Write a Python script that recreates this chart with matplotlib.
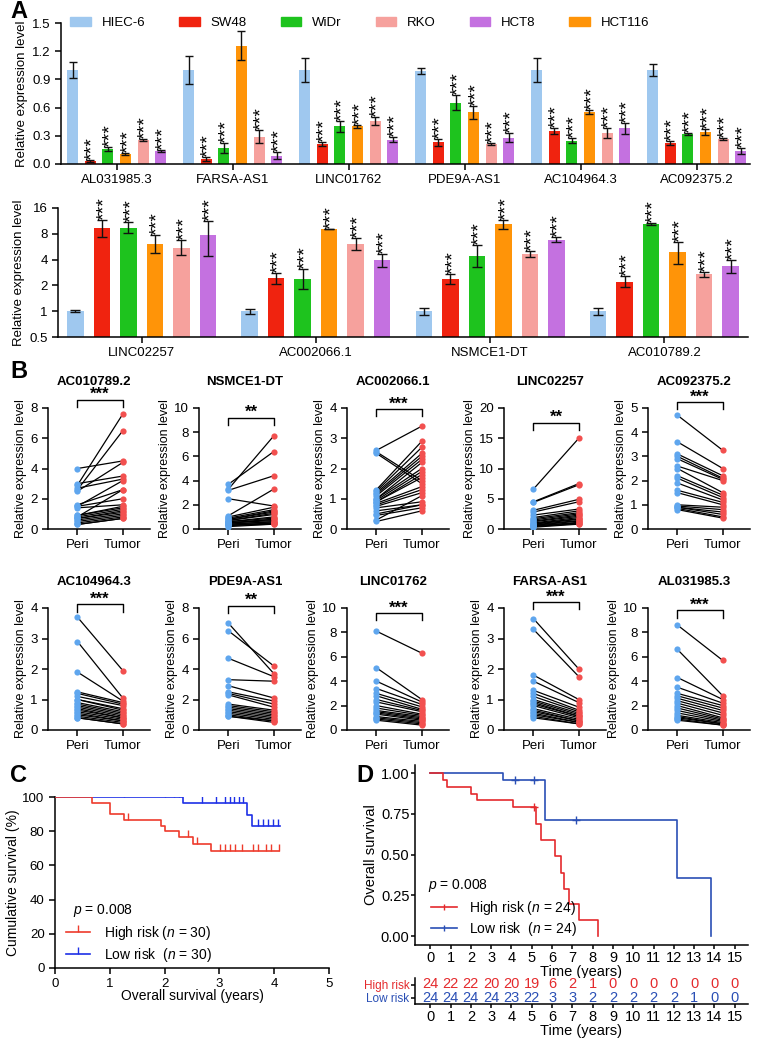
import numpy as np
import matplotlib
matplotlib.use('Agg')
import matplotlib.pyplot as plt
from matplotlib.lines import Line2D
from matplotlib.patches import Patch

plt.rcParams['font.family'] = ['Liberation Sans', 'DejaVu Sans']
plt.rcParams['mathtext.fontset'] = 'custom'
plt.rcParams['mathtext.it'] = 'Liberation Sans:italic'
plt.rcParams['mathtext.rm'] = 'Liberation Sans'
plt.rcParams['font.size'] = 9
plt.rcParams['axes.linewidth'] = 1.1
plt.rcParams['xtick.major.width'] = 1.1
plt.rcParams['ytick.major.width'] = 1.1

# ---------------- DATA ----------------
# panel A
cell_lines = ['HIEC-6', 'SW48', 'WiDr', 'HCT116', 'RKO', 'HCT8']
legend_order = ['HIEC-6', 'SW48', 'WiDr', 'RKO', 'HCT8', 'HCT116']
cell_colors = {'HIEC-6': '#9fc8ef', 'SW48': '#f0230f', 'WiDr': '#1ec31e',
               'HCT116': '#ff9408', 'RKO': '#f6a19d', 'HCT8': '#c471e0'}

genes_down = ['AL031985.3', 'FARSA-AS1', 'LINC01762', 'PDE9A-AS1', 'AC104964.3', 'AC092375.2']
down_mean = [[1.00, 0.03, 0.16, 0.11, 0.26, 0.14],
             [1.00, 0.05, 0.17, 1.26, 0.29, 0.09],
             [1.00, 0.21, 0.40, 0.40, 0.46, 0.26],
             [0.99, 0.23, 0.65, 0.55, 0.21, 0.28],
             [1.00, 0.35, 0.25, 0.55, 0.33, 0.38],
             [1.00, 0.22, 0.32, 0.34, 0.27, 0.14]]
down_err = [[0.09, 0.01, 0.02, 0.01, 0.01, 0.01],
            [0.15, 0.02, 0.05, 0.15, 0.07, 0.04],
            [0.13, 0.02, 0.06, 0.02, 0.04, 0.03],
            [0.03, 0.04, 0.08, 0.07, 0.01, 0.05],
            [0.13, 0.03, 0.03, 0.02, 0.05, 0.06],
            [0.06, 0.02, 0.01, 0.03, 0.01, 0.03]]
# significance marks per bar (HIEC-6 is the reference)
down_sig = [['', '***', '***', '***', '***', '***'],
            ['', '***', '***', '', '***', '***'],
            ['', '***', '***', '***', '***', '***'],
            ['', '***', '***', '***', '***', '***'],
            ['', '***', '***', '***', '***', '***'],
            ['', '***', '***', '***', '***', '***']]

genes_up = ['LINC02257', 'AC002066.1', 'NSMCE1-DT', 'AC010789.2']
up_mean = [[1.0, 9.3, 9.3, 6.1, 5.5, 7.8],
           [1.0, 2.45, 2.4, 9.1, 6.1, 3.95],
           [1.0, 2.4, 4.4, 10.4, 4.65, 6.8],
           [1.0, 2.2, 10.4, 4.9, 2.7, 3.4]]
up_lo = [[0.97, 7.3, 8.2, 4.8, 4.5, 4.4],
         [0.94, 2.1, 1.8, 9.0, 5.2, 3.3],
         [0.90, 2.1, 3.3, 9.1, 4.3, 6.4],
         [0.90, 1.9, 10.2, 3.6, 2.5, 2.8]]
up_hi = [[1.03, 11.6, 11.0, 7.7, 6.8, 11.4],
         [1.06, 2.8, 3.1, 9.2, 7.2, 4.6],
         [1.10, 2.7, 5.9, 11.7, 5.0, 7.3],
         [1.10, 2.6, 10.6, 6.4, 2.85, 4.0]]

# panel B
b_genes = ['AC010789.2', 'NSMCE1-DT', 'AC002066.1', 'LINC02257', 'AC092375.2',
           'AC104964.3', 'PDE9A-AS1', 'LINC01762', 'FARSA-AS1', 'AL031985.3']
b_sig = ['***', '**', '***', '**', '***', '***', '**', '***', '***', '***']
b_yticks = [[0, 2, 4, 6, 8], [0, 2, 4, 6, 8, 10], [0, 1, 2, 3, 4], [0, 5, 10, 15, 20],
            [0, 1, 2, 3, 4, 5], [0, 1, 2, 3, 4], [0, 2, 4, 6, 8], [0, 2, 4, 6, 8, 10],
            [0, 1, 2, 3, 4], [0, 2, 4, 6, 8, 10]]
b_bracket = [1.07, 0.92, 0.99, 0.88, 1.05, 1.03, 1.02, 0.96, 1.05, 0.98]
b_peri = [
    [4.0, 3.0, 2.9, 2.7, 2.6, 2.5, 1.6, 1.5, 1.5, 1.4, 0.9, 0.9, 0.8, 0.8, 0.7, 0.7, 0.6, 0.5, 0.4, 0.3, 0.3],
    [3.7, 3.3, 3.2, 2.5, 1.1, 1.0, 0.9, 0.8, 0.8, 0.7, 0.7, 0.6, 0.6, 0.5, 0.5, 0.5, 0.4, 0.4, 0.3, 0.3, 0.3, 0.2],
    [2.6, 2.55, 2.5, 1.3, 1.25, 1.2, 1.15, 1.1, 1.0, 1.0, 0.95, 0.9, 0.9, 0.85, 0.8, 0.75, 0.7, 0.6, 0.5, 0.45, 0.3, 0.25],
    [6.6, 4.5, 4.4, 3.1, 2.8, 2.3, 1.9, 1.7, 1.5, 1.3, 1.2, 1.0, 0.9, 0.8, 0.7, 0.6, 0.5, 0.5, 0.4, 0.3],
    [4.7, 3.6, 3.1, 3.0, 2.9, 2.6, 2.5, 2.2, 2.1, 1.9, 1.6, 1.5, 1.0, 0.95, 0.9, 0.9, 0.85, 0.8],
    [3.7, 2.9, 1.9, 1.25, 1.2, 1.1, 1.0, 1.0, 0.9, 0.85, 0.8, 0.75, 0.7, 0.65, 0.6, 0.55, 0.5, 0.45, 0.4, 0.4],
    [7.0, 6.5, 4.7, 3.3, 2.9, 2.5, 2.4, 2.3, 1.7, 1.6, 1.5, 1.4, 1.3, 1.2, 1.1, 1.0, 0.9, 0.9],
    [8.1, 5.1, 4.0, 3.4, 3.0, 2.8, 2.5, 2.3, 2.0, 1.8, 1.6, 1.5, 1.4, 1.3, 1.1, 1.0, 0.9, 0.8],
    [3.65, 3.3, 1.8, 1.6, 1.3, 1.2, 1.1, 1.0, 0.95, 0.9, 0.85, 0.8, 0.7, 0.65, 0.6, 0.55, 0.5, 0.45, 0.4],
    [8.6, 6.6, 4.3, 3.5, 3.0, 2.8, 2.6, 2.4, 2.2, 2.0, 1.8, 1.6, 1.4, 1.2, 1.1, 1.0, 0.9, 0.8],
]
b_tumor = [
    [4.5, 3.5, 7.6, 3.3, 6.5, 4.4, 2.6, 3.2, 2.0, 1.6, 1.5, 1.4, 1.3, 2.6, 1.2, 1.1, 1.0, 0.9, 0.8, 0.7, 0.7],
    [6.4, 7.7, 4.4, 1.9, 3.3, 1.8, 1.6, 1.5, 1.4, 1.3, 1.2, 1.0, 0.9, 0.8, 0.8, 0.7, 0.6, 0.6, 0.5, 0.5, 0.4, 0.4],
    [3.4, 1.6, 1.5, 2.9, 2.7, 2.5, 2.4, 2.3, 2.2, 2.0, 1.9, 1.8, 1.7, 1.4, 1.3, 1.2, 0.9, 0.8, 0.8, 0.7, 1.1, 0.6],
    [15.0, 7.5, 7.3, 4.9, 4.5, 3.3, 3.0, 2.7, 2.5, 2.3, 2.1, 1.9, 1.7, 1.6, 1.4, 1.3, 1.1, 1.0, 0.9, 0.8],
    [3.25, 2.5, 2.2, 2.1, 2.05, 2.0, 1.5, 1.4, 1.3, 1.2, 1.1, 1.0, 0.9, 0.8, 0.7, 0.6, 0.5, 0.45],
    [1.95, 1.05, 0.95, 0.9, 0.85, 0.8, 0.7, 0.65, 0.6, 0.55, 0.5, 0.45, 0.4, 0.4, 0.35, 0.3, 0.3, 0.25, 0.2, 0.2],
    [3.7, 4.2, 3.5, 3.2, 2.1, 1.9, 1.7, 1.5, 1.3, 1.2, 1.1, 1.0, 0.9, 0.8, 0.7, 0.6, 0.6, 0.5],
    [6.3, 2.5, 2.3, 2.1, 1.9, 1.7, 1.6, 1.5, 1.3, 1.2, 1.1, 1.0, 0.9, 0.8, 0.7, 0.6, 0.5, 0.4],
    [2.0, 1.75, 1.0, 0.9, 0.75, 0.65, 0.6, 0.55, 0.5, 0.45, 0.45, 0.4, 0.35, 0.3, 0.3, 0.25, 0.25, 0.2, 0.2],
    [5.7, 2.8, 2.5, 2.2, 2.0, 1.8, 1.6, 1.4, 1.2, 1.0, 0.9, 0.8, 0.7, 0.6, 0.5, 0.5, 0.4, 0.4],
]

# panel C (Kaplan-Meier, %)
c_low_t = [0, 2.34, 3.51, 3.59, 4.10]
c_low_s = [100, 96.7, 89.3, 82.9, 82.9]
c_low_cens = [1.26, 2.0, 2.17, 2.26, 2.68, 2.94, 3.10, 3.19, 3.27, 3.36, 3.43, 3.71, 3.80, 3.89, 3.98, 4.07]
c_high_t = [0, 0.67, 1.0, 1.25, 1.93, 2.0, 2.26, 2.51, 2.85, 4.09]
c_high_s = [100, 96.7, 90.0, 86.6, 83.3, 79.9, 76.4, 72.7, 68.4, 68.4]
c_high_cens = [1.34, 2.43, 2.60, 3.01, 3.10, 3.19, 3.28, 3.42, 3.62, 3.70, 3.85, 3.94, 4.09]

# panel D
d_low_t = [0, 3.6, 5.66, 12.13, 13.82]
d_low_s = [1.0, 0.958, 0.715, 0.357, 0.0]
d_low_cens = [4.18, 5.13, 7.16]
d_high_t = [0, 0.62, 0.85, 2.02, 2.3, 4.1, 5.2, 5.44, 6.15, 6.43, 6.6, 6.84, 7.34, 8.28]
d_high_s = [1.0, 0.958, 0.917, 0.875, 0.833, 0.79, 0.69, 0.59, 0.49, 0.39, 0.29, 0.197, 0.098, 0.0]
d_high_cens = [5.13]
risk_times = list(range(16))
risk_high = [24, 22, 22, 20, 20, 19, 6, 2, 1, 0, 0, 0, 0, 0, 0, 0]
risk_low = [24, 24, 24, 24, 23, 22, 3, 3, 2, 2, 2, 2, 2, 1, 0, 0]

# ---------------- FIGURE ----------------
W, H = 757, 1039
fig = plt.figure(figsize=(W / 100, H / 100), dpi=100)


def rect(x0, y0, x1, y1):
    return [x0 / W, 1 - y1 / H, (x1 - x0) / W, (y1 - y0) / H]


def clean(ax):
    ax.spines['top'].set_visible(False)
    ax.spines['right'].set_visible(False)
    ax.tick_params(direction='out', length=4, labelsize=9.5)


bar_step = 0.152
bar_w = 0.095
STAR_FS = 14

# A top
axA = fig.add_axes(rect(61, 23, 750, 164))
xg = np.arange(len(genes_down))
for j, cl in enumerate(cell_lines):
    xs = xg + (j - 2.5) * bar_step
    m = [row[j] for row in down_mean]
    e = [row[j] for row in down_err]
    s = [row[j] for row in down_sig]
    axA.bar(xs, m, bar_w, color=cell_colors[cl], zorder=2)
    axA.errorbar(xs, m, yerr=e, fmt='none', ecolor='#111111', elinewidth=1,
                 capsize=3, capthick=1, zorder=3)
    for xx, mm, ee, ss in zip(xs, m, e, s):
        if ss:
            axA.annotate(ss, (xx, mm + ee), xytext=(2, 0), textcoords='offset points',
                         rotation=90, ha='center', va='bottom', fontsize=STAR_FS)
clean(axA)
axA.set_xlim(-0.48, 5.46)
axA.set_ylim(0, 1.5)
axA.set_yticks([0, 0.3, 0.6, 0.9, 1.2, 1.5])
axA.set_yticklabels(['0.0', '0.3', '0.6', '0.9', '1.2', '1.5'])
axA.set_xticks(xg)
axA.set_xticklabels(genes_down)
axA.set_ylabel('Relative expression level', fontsize=9.5, labelpad=3)
handles = [Patch(color=cell_colors[c], label=c) for c in legend_order]
axA.legend(handles=handles, ncol=6, loc='center left', bbox_to_anchor=(0.006, 1.0),
           frameon=False, handlelength=1.55, handleheight=0.6, columnspacing=2.6,
           handletextpad=0.8, fontsize=9.5, borderaxespad=0)

# A bottom
axA2 = fig.add_axes(rect(58, 208, 748, 337))
xg2 = np.arange(len(genes_up))
for j, cl in enumerate(cell_lines):
    xs = xg2 + (j - 2.5) * bar_step
    m = np.array([row[j] for row in up_mean])
    lo = np.array([row[j] for row in up_lo])
    hi = np.array([row[j] for row in up_hi])
    axA2.bar(xs, m - 0.5, bar_w, bottom=0.5, color=cell_colors[cl], zorder=2)
    axA2.errorbar(xs, m, yerr=[m - lo, hi - m], fmt='none', ecolor='#111111',
                  elinewidth=1, capsize=3.5, capthick=1, zorder=3)
    if j > 0:
        for xx, hh in zip(xs, hi):
            axA2.annotate('***', (xx, hh), xytext=(2, 0), textcoords='offset points',
                          rotation=90, ha='center', va='bottom', fontsize=STAR_FS)
clean(axA2)
axA2.set_yscale('log', base=2)
axA2.set_ylim(0.5, 16)
axA2.set_yticks([0.5, 1, 2, 4, 8, 16])
axA2.set_yticklabels(['0.5', '1', '2', '4', '8', '16'])
axA2.minorticks_off()
axA2.set_xlim(-0.48, 3.48)
axA2.set_xticks(xg2)
axA2.set_xticklabels(genes_up)
axA2.set_ylabel('Relative expression level', fontsize=9.5, labelpad=3)

# B
b_left = [48, 199, 347, 504, 648]
b_rows = [(408, 529), (608, 730)]
for i in range(10):
    r, c = divmod(i, 5)
    y0, y1 = b_rows[r]
    ax = fig.add_axes(rect(b_left[c], y0, b_left[c] + 102, y1))
    for p, t in zip(b_peri[i], b_tumor[i]):
        ax.plot([0, 1], [p, t], color='black', lw=0.9, zorder=1)
    ax.scatter(np.zeros(len(b_peri[i])), b_peri[i], s=20, color='#5fa6ee', zorder=3, lw=0)
    ax.scatter(np.ones(len(b_tumor[i])), b_tumor[i], s=20, color='#f2504f', zorder=3, lw=0)
    clean(ax)
    ax.set_xlim(-0.65, 1.6)
    ax.set_ylim(0, b_yticks[i][-1])
    ax.set_yticks(b_yticks[i])
    ax.set_xticks([0, 1])
    ax.set_xticklabels(['Peri', 'Tumor'])
    ax.set_ylabel('Relative expression level', fontsize=9, labelpad=2)
    ax.text(0.45, 1 + 26 / 121, b_genes[i], transform=ax.transAxes, ha='center',
            va='center', fontsize=9.5, fontweight='bold')
    tr = ax.get_xaxis_transform()
    by = b_bracket[i]
    ax.plot([0, 0, 1, 1], [by - 0.06, by, by, by - 0.06], color='black', lw=1,
            transform=tr, clip_on=False)
    ax.text(0.5, by - 0.02, b_sig[i], transform=tr, ha='center', va='bottom',
            fontsize=12, fontweight='bold')


def step_at(ts, ss, x):
    k = np.searchsorted(ts, x, side='right') - 1
    return ss[k]


# C
axC = fig.add_axes(rect(55, 797, 329, 968))
c_blue = '#1e30e6'
c_red = '#ee3b2c'
axC.step(c_low_t, c_low_s, where='post', color=c_blue, lw=1.2, zorder=2)
axC.step(c_high_t, c_high_s, where='post', color=c_red, lw=1.2, zorder=3)
axC.plot(c_low_cens, [step_at(c_low_t, c_low_s, x) for x in c_low_cens], ls='none',
         marker=2, ms=5, mew=1, color=c_blue)
axC.plot(c_high_cens, [step_at(c_high_t, c_high_s, x) for x in c_high_cens], ls='none',
         marker=2, ms=5, mew=1, color=c_red)
clean(axC)
axC.set_xlim(0, 5)
axC.set_ylim(0, 100)
axC.set_xticks(range(6))
axC.set_yticks(range(0, 101, 20))
axC.set_xlabel('Overall survival (years)', fontsize=10, labelpad=-1)
axC.set_ylabel('Cumulative survival (%)', fontsize=10, labelpad=2)
axC.text(0.065, 0.335, '$p$ = 0.008', transform=axC.transAxes, fontsize=10, va='center')
hC = [Line2D([0], [0], color=c_red, lw=1.2, marker=2, ms=5, mew=1),
      Line2D([0], [0], color=c_blue, lw=1.2, marker=2, ms=5, mew=1)]
axC.legend(hC, ['High risk ($n$ = 30)', 'Low risk  ($n$ = 30)'], loc='upper left',
           bbox_to_anchor=(0.02, 0.29), frameon=False, fontsize=10, handlelength=1.7,
           handletextpad=1.0, labelspacing=0.3, numpoints=1, borderaxespad=0)

# D
d_blue = '#2a4fb5'
d_red = '#e42a2d'
axD = fig.add_axes(rect(415, 765, 748, 945))
axD.step(d_low_t, d_low_s, where='post', color=d_blue, lw=1.2)
axD.step(d_high_t, d_high_s, where='post', color=d_red, lw=1.2)
axD.plot(d_low_cens, [step_at(d_low_t, d_low_s, x) for x in d_low_cens], ls='none',
         marker='+', ms=6, mew=1, color=d_blue)
axD.plot(d_high_cens, [step_at(d_high_t, d_high_s, x) for x in d_high_cens], ls='none',
         marker='+', ms=6, mew=1, color=d_red)
clean(axD)
axD.tick_params(labelsize=10.5, length=3, pad=1)
axD.set_xlim(-0.75, 15.65)
axD.set_ylim(-0.055, 1.05)
axD.set_xticks(risk_times)
axD.set_yticks([0, 0.25, 0.5, 0.75, 1.0])
axD.set_yticklabels(['0.00', '0.25', '0.50', '0.75', '1.00'])
axD.set_xlabel('Time (years)', fontsize=10.5, labelpad=0)
axD.set_ylabel('Overall survival', fontsize=10.5, labelpad=2)
axD.text(0.04, 0.33, '$p$ = 0.008', transform=axD.transAxes, fontsize=10, va='center')
hD = [Line2D([0], [0], color=d_red, lw=1.2, marker='|', ms=5, mew=1),
      Line2D([0], [0], color=d_blue, lw=1.2, marker='|', ms=5, mew=1)]
axD.legend(hD, ['High risk ($n$ = 24)', 'Low risk  ($n$ = 24)'], loc='upper left',
           bbox_to_anchor=(0.03, 0.285), frameon=False, fontsize=10, handlelength=1.9,
           handletextpad=0.9, labelspacing=0.2, numpoints=1, borderaxespad=0)

# D risk table
axT = fig.add_axes(rect(415, 978, 748, 1004))
for t, hv, lv in zip(risk_times, risk_high, risk_low):
    axT.text(t, 2, str(hv), color=d_red, ha='center', va='center', fontsize=10.5)
    axT.text(t, 1, str(lv), color=d_blue, ha='center', va='center', fontsize=10.5)
clean(axT)
axT.tick_params(labelsize=10.5, length=3, pad=1)
axT.set_xlim(-0.75, 15.65)
axT.set_ylim(0.5, 2.5)
axT.set_xticks(risk_times)
axT.set_yticks([1, 2])
axT.set_yticklabels(['Low risk', 'High risk'], fontsize=8.5)
for lab, col in zip(axT.get_yticklabels(), [d_blue, d_red]):
    lab.set_color(col)
axT.set_xlabel('Time (years)', fontsize=10.5, labelpad=0)

# panel letters
for lab, px, py in [('A', 10, 12), ('B', 10, 372), ('C', 10, 775), ('D', 356, 775)]:
    fig.text(px / W, 1 - py / H, lab, fontsize=17, fontweight='bold', va='center', ha='left')

fig.savefig('out.png', dpi=100)
